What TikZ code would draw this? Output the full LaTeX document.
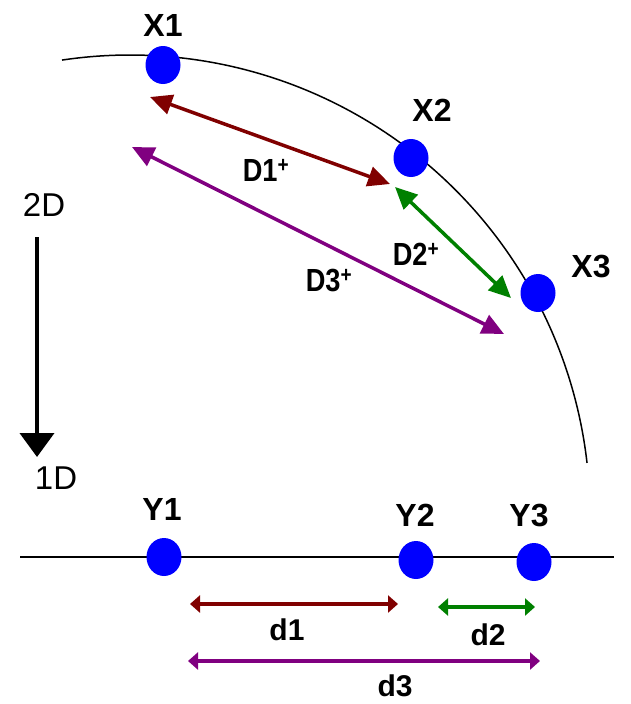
\documentclass[tikz,border=0pt]{standalone}
\usepackage{fontspec}
\setmainfont{Liberation Sans}
\newfontfamily\narrowsans[FakeStretch=0.85]{Liberation Sans}
\usetikzlibrary{arrows.meta,positioning,shapes.geometric}
\definecolor{DotBlue}{HTML}{0000FF}
\definecolor{DarkRed}{HTML}{800000}
\definecolor{DarkGreen}{HTML}{008000}
\definecolor{Violet}{HTML}{800080}

\begin{document}
\begin{tikzpicture}[
  x=1pt,y=-1pt,
  every node/.style={font=\bfseries\fontsize{32}{34}\selectfont,inner sep=0pt},
  dot/.style={ellipse,fill=DotBlue,inner sep=0pt,minimum width=35pt,minimum height=38pt},
  dlbl/.style={font=\narrowsans\bfseries\fontsize{32}{34}\selectfont},
  axlbl/.style={font=\fontsize{33}{35}\selectfont},
  slbl/.style={font=\bfseries\fontsize{30}{32}\selectfont},
  big/.style={{Triangle[length=22pt,width=20pt]}-{Triangle[length=22pt,width=20pt]},line width=3.5pt},
  small/.style={{Triangle[length=10pt,width=17pt]}-{Triangle[length=10pt,width=17pt]},line width=3.5pt},
  axis/.style={-{Triangle[length=24pt,width=34pt]},line width=4pt}
]
\useasboundingbox (0,0) rectangle (631,704);
% 2D curve and points
\draw[line width=1.5pt] (130,515) ++(-98.5:460) arc[start angle=-98.5,end angle=-6.5,radius=460];
\node[dot] (x1) at (163,65) {};
\node[dot] (x2) at (411,158) {};
\node[dot] (x3) at (538,293) {};
\node (x1l) at (163,25) {X1};
\node (x2l) at (432,110) {X2};
\node (x3l) at (591,267) {X3};
% distances in 2D
\coordinate (a1) at (150,97);   \coordinate (b1) at (390,184);
\coordinate (a2) at (395,187);  \coordinate (b2) at (511,298);
\coordinate (a3) at (132,147);  \coordinate (b3) at (504,334);
\draw[big,DarkRed] (a1) -- (b1);
\draw[big,DarkGreen] (a2) -- (b2);
\draw[big,Violet] (a3) -- (b3);
\node[dlbl] (d1l) at (266,170) {D1\textsuperscript{+}};
\node[dlbl] (d2l) at (416,254) {D2\textsuperscript{+}};
\node[dlbl] (d3l) at (329,281) {D3\textsuperscript{+}};
% 2D -> 1D
\node[axlbl] (twod) at (44,205) {2D};
\node[axlbl] (oned) at (56,478) {1D};
\coordinate (ax) at (37,237);
\coordinate (ay) at (37,457);
\draw[axis] (ax) -- (ay);
% 1D line and points
\coordinate (l0) at (20,557);
\coordinate (l1) at (614,557);
\draw[line width=2pt] (l0) -- (l1);
\node[dot] (y1) at (164,557) {};
\node[dot] (y2) at (416,560) {};
\node[dot] (y3) at (534,562) {};
\node (y1l) at (162,509) {Y1};
\node (y2l) at (415,515) {Y2};
\node (y3l) at (529,516) {Y3};
% distances in 1D
\coordinate (e1) at (190,604);  \coordinate (f1) at (398,604);
\coordinate (e2) at (438,607);  \coordinate (f2) at (535,607);
\coordinate (e3) at (188,661);  \coordinate (f3) at (540,661);
\draw[small,DarkRed] (e1) -- (f1);
\draw[small,DarkGreen] (e2) -- (f2);
\draw[small,Violet] (e3) -- (f3);
\node[slbl] (d1s) at (287,630) {d1};
\node[slbl] (d2s) at (488,635) {d2};
\node[slbl] (d3s) at (395,686) {d3};
\end{tikzpicture}
\end{document}
